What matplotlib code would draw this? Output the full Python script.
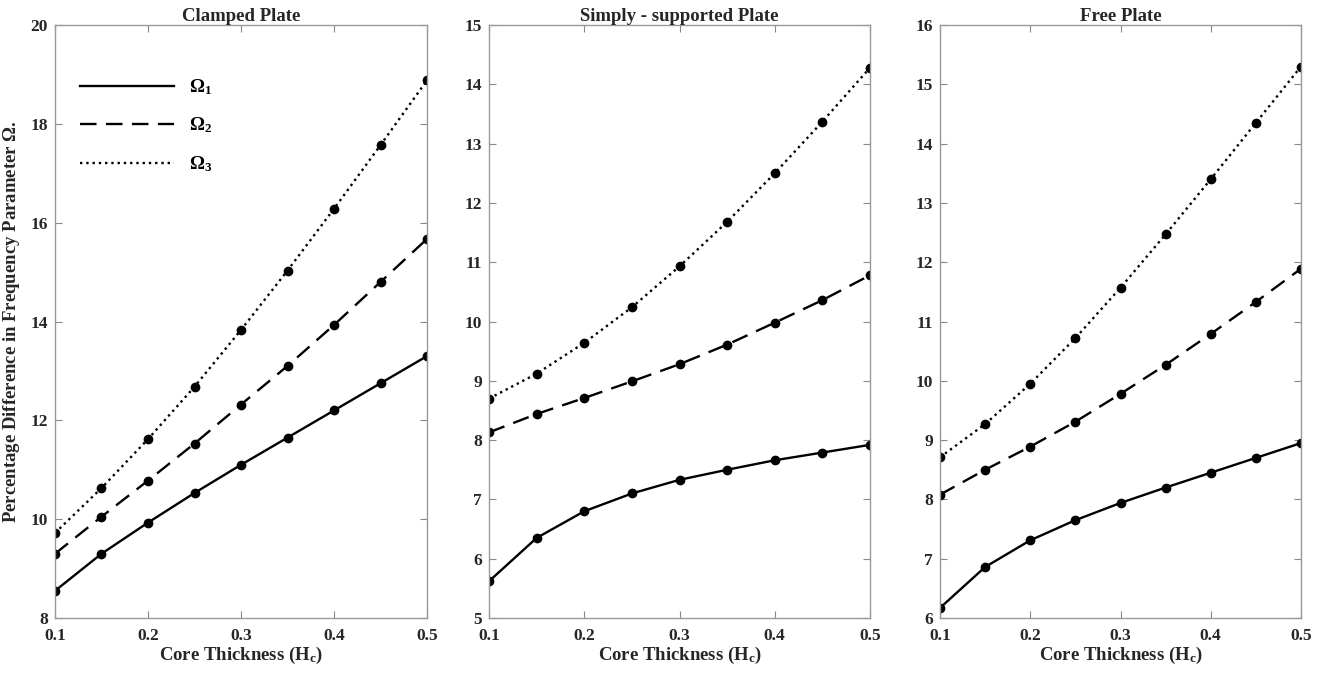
import numpy as np
import matplotlib
matplotlib.use('Agg')
import matplotlib.pyplot as plt

plt.rcParams['font.family'] = ['Liberation Serif', 'DejaVu Serif']
plt.rcParams['font.weight'] = 'bold'
plt.rcParams['mathtext.fontset'] = 'custom'
plt.rcParams['mathtext.rm'] = 'Liberation Serif:bold'
plt.rcParams['mathtext.it'] = 'Liberation Serif:italic:bold'
plt.rcParams['mathtext.bf'] = 'Liberation Serif:bold'

hc = [0.1, 0.15, 0.2, 0.25, 0.3, 0.35, 0.4, 0.45, 0.5]

clamped_w1 = [8.55, 9.3, 9.93, 10.53, 11.1, 11.65, 12.2, 12.75, 13.3]
clamped_w2 = [9.3, 10.05, 10.78, 11.53, 12.32, 13.1, 13.93, 14.8, 15.67]
clamped_w3 = [9.72, 10.63, 11.62, 12.68, 13.83, 15.03, 16.28, 17.57, 18.88]

simply_w1 = [5.62, 6.35, 6.8, 7.1, 7.33, 7.5, 7.66, 7.79, 7.92]
simply_w2 = [8.13, 8.44, 8.71, 8.99, 9.28, 9.61, 9.98, 10.36, 10.78]
simply_w3 = [8.7, 9.12, 9.64, 10.24, 10.93, 11.68, 12.5, 13.37, 14.28]

free_w1 = [6.17, 6.86, 7.31, 7.65, 7.94, 8.2, 8.45, 8.7, 8.95]
free_w2 = [8.08, 8.5, 8.89, 9.31, 9.78, 10.27, 10.79, 11.33, 11.89]
free_w3 = [8.71, 9.27, 9.95, 10.72, 11.57, 12.47, 13.4, 14.35, 15.3]

titles = ['Clamped Plate', 'Simply - supported Plate', 'Free Plate']
series = [(clamped_w1, clamped_w2, clamped_w3),
          (simply_w1, simply_w2, simply_w3),
          (free_w1, free_w2, free_w3)]
ylims = [(8, 20), (5, 15), (6, 16)]
ysteps = [2, 1, 1]
legend_labels = [r'$\Omega_{1}$', r'$\Omega_{2}$', r'$\Omega_{3}$']
styles = ['-', (0, (7, 4)), ':']

fig = plt.figure(figsize=(13.23, 6.74), dpi=100)
W, H = 1323, 674
boxes = [(55, 427), (489, 870), (940, 1301)]
top, bottom = 25, 618

for i in range(3):
    l, r = boxes[i]
    ax = fig.add_axes([l / W, 1 - bottom / H, (r - l) / W, (bottom - top) / H])
    for j in range(3):
        ax.plot(hc, series[i][j], linestyle=styles[j], color='black', lw=1.7,
                marker='o', markersize=6, label=legend_labels[j])
    ax.set_xlim(0.1, 0.5)
    ax.set_ylim(*ylims[i])
    ax.set_xticks(np.arange(0.1, 0.51, 0.1))
    ax.set_xticklabels(['0.1', '0.2', '0.3', '0.4', '0.5'])
    ax.set_yticks(np.arange(ylims[i][0], ylims[i][1] + 0.01, ysteps[i]))
    ax.tick_params(direction='in', top=True, right=True, length=5,
                   width=0.8, color='#888888', labelsize=12.5, labelcolor='#262626')
    ax.tick_params(axis='x', pad=7)
    ax.tick_params(axis='y', pad=5)
    for s in ax.spines.values():
        s.set_color('#999999')
        s.set_linewidth(1.0)
    ax.set_title(titles[i], fontsize=13.5, fontweight='bold', pad=3, color='#262626')
    ax.set_xlabel(r'Core Thickness (H$_\mathregular{c}$)', fontsize=13.5,
                  fontweight='bold', labelpad=1, color='#262626')
    if i == 0:
        ax.set_ylabel(r'Percentage Difference in Frequency Parameter $\Omega$.',
                      fontsize=13.5, fontweight='bold', labelpad=6, color='#262626')
        ax.legend(loc='upper left', bbox_to_anchor=(0.067, 0.912), frameon=False,
                  handlelength=5.0, labelspacing=1.0, borderpad=0, borderaxespad=0,
                  handletextpad=0.8, fontsize=13.5, markerscale=0)

fig.savefig('out.png', dpi=100, facecolor='white')
